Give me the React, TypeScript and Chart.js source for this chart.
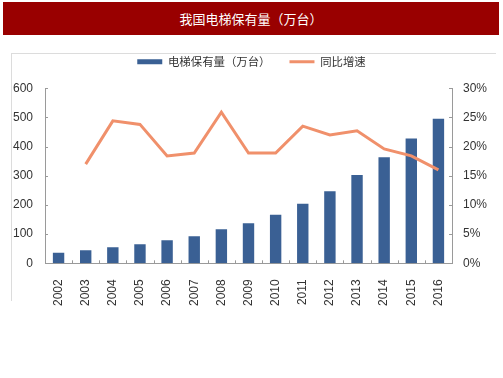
import React, { useEffect, useRef } from "react";
import { Chart, registerables } from "chart.js";

Chart.register(...registerables);

const title = "我国电梯保有量（万台）";
const seriesNames = ["电梯保有量（万台）", "同比增速"];
const years = ["2002", "2003", "2004", "2005", "2006", "2007", "2008", "2009", "2010", "2011", "2012", "2013", "2014", "2015", "2016"];
const stock = [36, 45, 55, 65, 79, 93, 117, 137, 166, 204, 247, 303, 363, 428, 495];
const growth = [null, 17.0, 24.4, 23.8, 18.4, 18.9, 25.9, 18.9, 18.9, 23.5, 22.0, 22.7, 19.6, 18.4, 16.0];
const leftTicks = [0, 100, 200, 300, 400, 500, 600];
const rightTicks = [0, 5, 10, 15, 20, 25, 30];

const BAR = "#3a6094";
const LINE = "#f0906b";
const AXIS = "#9a9a9a";
const TXT = "#333333";

const innerTicks = {
  id: "innerTicks",
  afterDatasetsDraw(chart: any) {
    const { ctx, chartArea } = chart;
    const x = chart.scales.x;
    const y = chart.scales.y;
    const y1 = chart.scales.y1;
    ctx.save();
    ctx.strokeStyle = AXIS;
    ctx.lineWidth = 1;
    ctx.beginPath();
    for (let i = 1; i < years.length; i++) {
      const px = Math.round((x.getPixelForValue(i - 1) + x.getPixelForValue(i)) / 2) + 0.5;
      ctx.moveTo(px, chartArea.bottom);
      ctx.lineTo(px, chartArea.bottom - 3);
    }
    leftTicks.forEach((v) => {
      const py = Math.round(y.getPixelForValue(v)) + 0.5;
      ctx.moveTo(chartArea.left, py);
      ctx.lineTo(chartArea.left + 3, py);
    });
    rightTicks.forEach((v) => {
      const py = Math.round(y1.getPixelForValue(v)) + 0.5;
      ctx.moveTo(chartArea.right, py);
      ctx.lineTo(chartArea.right - 3, py);
    });
    ctx.stroke();
    ctx.restore();
  },
};

export default function App() {
  const ref = useRef<HTMLCanvasElement>(null);
  useEffect(() => {
    document.body.style.margin = "0";
    const chart = new Chart(ref.current as HTMLCanvasElement, {
      type: "bar",
      data: {
        labels: years,
        datasets: [
          {
            type: "bar",
            label: seriesNames[0],
            data: stock,
            backgroundColor: BAR,
            yAxisID: "y",
            categoryPercentage: 1,
            barPercentage: 0.42,
            order: 1,
          },
          {
            type: "line",
            label: seriesNames[1],
            data: growth as any,
            borderColor: LINE,
            backgroundColor: LINE,
            borderWidth: 3,
            pointRadius: 0,
            tension: 0,
            yAxisID: "y1",
            order: 0,
          },
        ],
      },
      plugins: [innerTicks],
      options: {
        responsive: false,
        animation: false,
        devicePixelRatio: 1,
        layout: { padding: { top: 37, bottom: 64, left: 0, right: 0 } },
        plugins: {
          tooltip: { enabled: false },
          subtitle: {
            display: true,
            text: "",
            position: "top",
            weight: 500,
            padding: 0,
            font: { size: 9, lineHeight: 1.2 },
          } as any,
          legend: {
            display: true,
            position: "top",
            labels: {
              usePointStyle: true,
              pointStyleWidth: 25,
              boxHeight: 5,
              padding: 19,
              color: TXT,
              font: { family: "'Noto Sans CJK SC'", size: 11.4 },
              generateLabels: () => [
                { text: seriesNames[0], fillStyle: BAR, strokeStyle: BAR, lineWidth: 0, pointStyle: "rect", datasetIndex: 0, hidden: false, fontColor: TXT },
                { text: seriesNames[1], fillStyle: LINE, strokeStyle: LINE, lineWidth: 3, pointStyle: "line", datasetIndex: 1, hidden: false, fontColor: TXT },
              ] as any,
            },
          },
        },
        scales: {
          x: {
            grid: { display: false },
            border: { display: true, color: AXIS },
            ticks: {
              autoSkip: false,
              minRotation: 90,
              maxRotation: 90,
              padding: 8,
              color: TXT,
              font: { family: "'Liberation Sans'", size: 12 },
            },
          },
          y: {
            position: "left",
            min: 0,
            max: 600,
            afterFit: (s: any) => { s.width = 45; },
            afterBuildTicks: (s: any) => { s.ticks = leftTicks.map((v) => ({ value: v })); },
            grid: { display: false },
            border: { display: true, color: AXIS },
            ticks: { padding: 4, color: TXT, font: { family: "'Liberation Sans'", size: 12 } },
          },
          y1: {
            position: "right",
            min: 0,
            max: 30,
            afterFit: (s: any) => { s.width = 51; },
            afterBuildTicks: (s: any) => { s.ticks = rightTicks.map((v) => ({ value: v })); },
            grid: { display: false },
            border: { display: true, color: AXIS },
            ticks: {
              padding: 3,
              color: TXT,
              font: { family: "'Liberation Sans'", size: 12 },
              callback: (v: any) => v + "%",
            },
          },
        },
      },
    });
    return () => chart.destroy();
  }, []);

  return (
    <div style={{ position: "relative", width: 503, height: 378, background: "#fff", overflow: "hidden" }}>
      <div
        style={{
          position: "absolute",
          left: 3,
          top: 2,
          width: 496,
          height: 33,
          background: "#990000",
          color: "#fff",
          fontFamily: "'Noto Sans CJK SC'",
          fontSize: 13,
          lineHeight: "33px",
          textAlign: "center",
        }}
      >
        {title}
      </div>
      <div
        style={{
          position: "absolute",
          left: 11,
          top: 53,
          width: 484,
          height: 247,
          borderLeft: "1px solid #dcdcdc",
          borderTop: "1px solid #dcdcdc",
        }}
      />
      <canvas ref={ref} width={503} height={378} style={{ position: "absolute", left: 0, top: 0 }} />
    </div>
  );
}
